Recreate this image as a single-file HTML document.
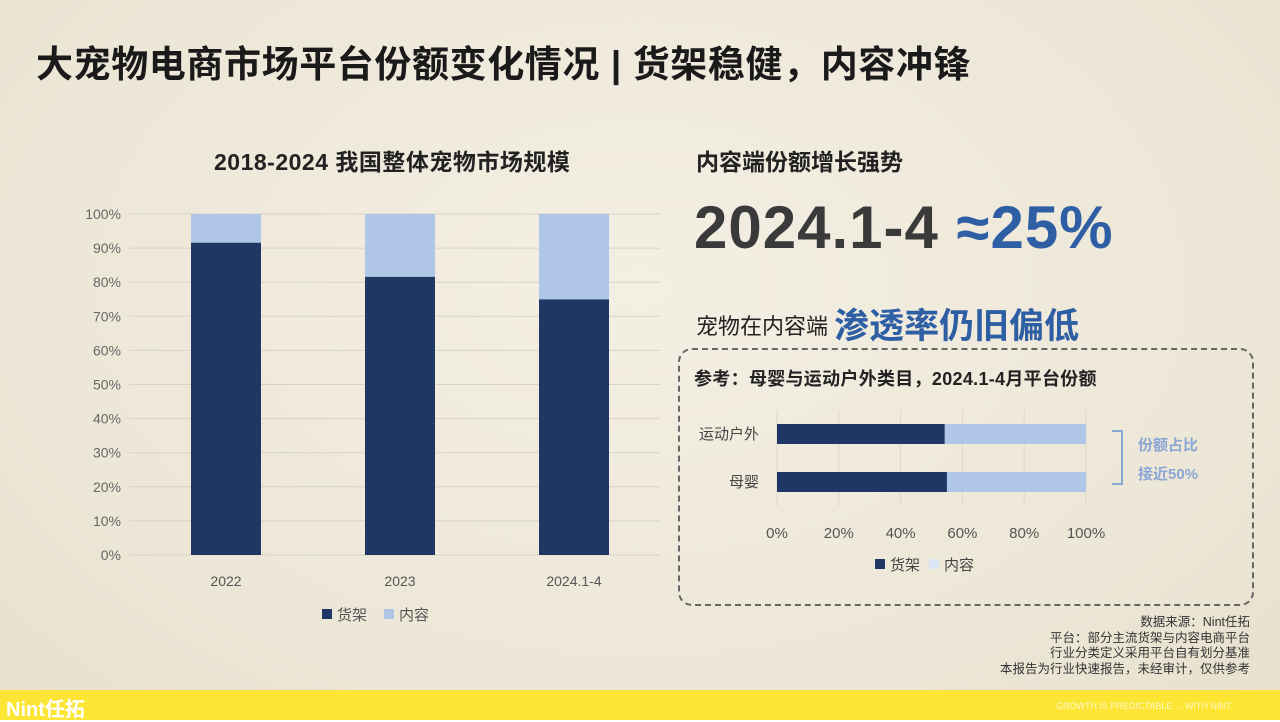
<!DOCTYPE html>
<html><head><meta charset="utf-8"><style>
body{margin:0;width:1280px;height:720px;overflow:hidden;font-family:"Liberation Sans","Noto Sans CJK SC",sans-serif;}
#root{position:relative;width:1280px;height:720px;background:radial-gradient(ellipse at 50% 40%,#f3efe3 0%,#ece6d6 70%,#e7e0cd 100%);}
.t{position:absolute;white-space:nowrap;color:#222;}
</style></head><body><div id="root">
<div class="t" style="left:36px;top:34px;font-size:37px;font-weight:bold;color:#1a1a1a;letter-spacing:0.6px">大宠物电商市场平台份额变化情况 | 货架稳健，内容冲锋</div>
<div class="t" style="left:214px;top:143px;font-size:23px;font-weight:bold;letter-spacing:0.5px">2018-2024 我国整体宠物市场规模</div>
<div class="t" style="left:696px;top:143px;font-size:23px;font-weight:bold;">内容端份额增长强势</div>
<div class="t" style="left:694px;top:193px;font-size:60px;font-weight:bold;color:#3a3a3a;letter-spacing:1px">2024.1-4 <span style="color:#2e5ea4">≈25%</span></div>
<div class="t" style="left:696px;top:298px;font-size:22px;">宠物在内容端 <span style="font-size:35px;font-weight:bold;color:#2e5ea4;vertical-align:-4px">渗透率仍旧偏低</span></div>
<div style="position:absolute;left:678px;top:348px;width:572px;height:254px;border:2px dashed #666;border-radius:14px;"></div>
<div class="t" style="left:694px;top:365px;font-size:18px;font-weight:bold;letter-spacing:0.3px">参考：母婴与运动户外类目，2024.1-4月平台份额</div>
<svg id="c1" width="1280" height="720" style="position:absolute;left:0;top:0"></svg>
<div class="t" style="right:30px;top:615px;font-size:12.5px;line-height:15.5px;text-align:right;color:#333;">数据来源：Nint任拓<br>平台：部分主流货架与内容电商平台<br>行业分类定义采用平台自有划分基准<br>本报告为行业快速报告，未经审计，仅供参考</div>
<div style="position:absolute;left:0;top:690px;width:1280px;height:30px;background:#fde535;"></div>
<div class="t" style="left:6px;top:693px;font-size:20px;font-weight:bold;color:#fff;">Nint任拓</div>
<div class="t" style="left:1056px;top:701px;font-size:9px;color:#fff8c8;">GROWTH IS PREDICTABLE ... WITH NINT</div>
</div>
<script>
const cats=["2022","2023","2024.1-4"];
const shelf=[91.6,81.6,75];
const content=[8.4,18.4,25];
const yTicks=[0,10,20,30,40,50,60,70,80,90,100];
const hCats=["运动户外","母婴"];
const hShelf=[54.3,55];
const hContent=[45.7,45];
const xTicks=[0,20,40,60,80,100];
const DARK="#1f3764",LIGHT="#b0c6e6";
const svg=document.getElementById('c1');const NS="http://www.w3.org/2000/svg";
function mk(t,a,txt){const e=document.createElementNS(NS,t);for(const k in a)e.setAttribute(k,a[k]);if(txt!=null)e.textContent=txt;svg.appendChild(e);return e;}
const y=v=>555-v*3.41;
const xc=i=>226+i*174;
yTicks.forEach(v=>{
 const g=mk('line',{x1:129,x2:660,y1:y(v),y2:y(v),stroke:'#d8d3c6','stroke-width':1});
 
 const t=mk('text',{x:121,y:y(v)+5,'text-anchor':'end','font-size':14,fill:'#666'},v+'%');
 
});
cats.forEach((c,i)=>{
 const b=mk('rect',{x:xc(i)-35,y:y(shelf[i]),width:70,height:y(0)-y(shelf[i]),fill:DARK});
 
 const b2=mk('rect',{x:xc(i)-35,y:y(shelf[i]+content[i]),width:70,height:y(shelf[i])-y(shelf[i]+content[i]),fill:LIGHT});
 
 const t=mk('text',{x:xc(i),y:586,'text-anchor':'middle','font-size':14,fill:'#555'},c);
 
});
let l=mk('rect',{x:322,y:609,width:10,height:10,fill:DARK});
l=mk('text',{x:337,y:620,'font-size':15,fill:'#555'},'货架');
l=mk('rect',{x:384,y:609,width:10,height:10,fill:LIGHT});
l=mk('text',{x:399,y:620,'font-size':15,fill:'#555'},'内容');
const hx=v=>777+v*3.09;
const hy=i=>434+i*48;
xTicks.forEach(v=>{
 const g=mk('line',{x1:hx(v),x2:hx(v),y1:410,y2:506,stroke:'#dcd7ca','stroke-width':1});
 
 const t=mk('text',{x:hx(v),y:538,'text-anchor':'middle','font-size':15,fill:'#555'},v+'%');
 
});
hCats.forEach((c,i)=>{
 const b=mk('rect',{x:hx(0),y:hy(i)-10,width:hx(hShelf[i])-hx(0),height:20,fill:DARK});
 
 const b2=mk('rect',{x:hx(hShelf[i]),y:hy(i)-10,width:hx(hShelf[i]+hContent[i])-hx(hShelf[i]),height:20,fill:LIGHT});
 
 const t=mk('text',{x:759,y:hy(i)+5,'text-anchor':'end','font-size':15,fill:'#444'},c);
 
});
l=mk('path',{d:'M1112,431 H1122 V484 H1112',fill:'none',stroke:'#8aa6d4','stroke-width':2});
l=mk('text',{x:1138,y:450,'font-size':15,'font-weight':'bold',fill:'#8aa6d4'},'份额占比');
l=mk('text',{x:1138,y:479,'font-size':15,'font-weight':'bold',fill:'#8aa6d4'},'接近50%');
l=mk('rect',{x:875,y:559,width:10,height:10,fill:DARK});
l=mk('text',{x:890,y:570,'font-size':15,fill:'#444'},'货架');
l=mk('rect',{x:929,y:559,width:10,height:10,fill:'#dbe5f3'});
l=mk('text',{x:944,y:570,'font-size':15,fill:'#444'},'内容');
</script></body></html>
